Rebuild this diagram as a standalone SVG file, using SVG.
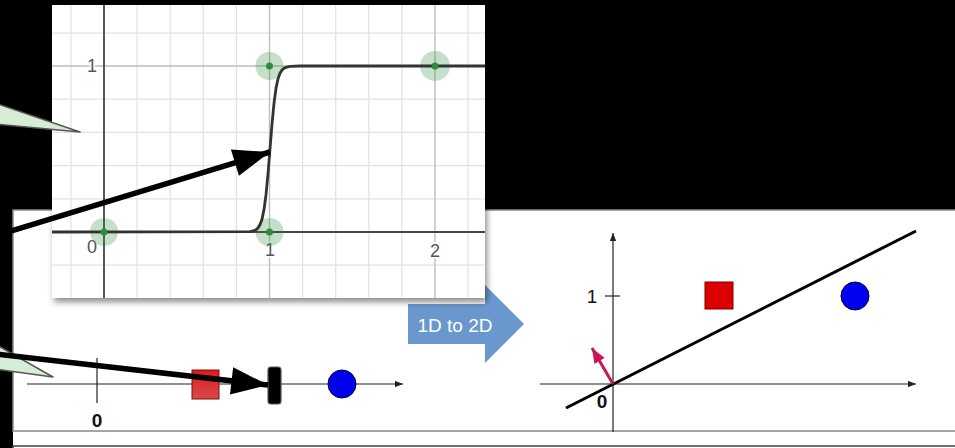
<svg xmlns="http://www.w3.org/2000/svg" width="955" height="448" viewBox="0 0 955 448">
<style>
.grid{stroke:#e2e2e2;stroke-width:1.2;fill:none}
.major{stroke:#bdbdbd;stroke-width:1.4;fill:none}
.axis{stroke:#444;stroke-width:1.8;fill:none}
.tick{font-family:"Liberation Sans",Arial,sans-serif;font-size:18px;fill:#555;text-anchor:middle;stroke:#fff;stroke-width:3px;paint-order:stroke}
.halo{fill:#2e8b3e;fill-opacity:0.28}
.dot{fill:#2e8b3e}
.thin{stroke:#222;stroke-width:1.2;fill:none}
.lbl{font-family:"Liberation Sans",Arial,sans-serif;font-size:19px;fill:#111;text-anchor:middle}
.callout{fill:#d7ecd4;stroke:#555;stroke-width:1.5;stroke-linejoin:round}
.big{stroke:#000;stroke-width:5.5;fill:none}
</style>
<defs>
<marker id="bigHead" viewBox="0 0 8 6" refX="8" refY="3" markerWidth="7.3" markerHeight="5" markerUnits="strokeWidth" orient="auto">
<path d="M0,0 L8,3 L0,6 Z" fill="#000"/>
</marker>
<marker id="smallHead" viewBox="0 0 10 8" refX="10" refY="4" markerWidth="7" markerHeight="5.6" markerUnits="strokeWidth" orient="auto">
<path d="M0,0 L10,4 L0,8 Z" fill="#222"/>
</marker>
<marker id="magHead" viewBox="0 0 10 8" refX="10" refY="4" markerWidth="5" markerHeight="4.4" markerUnits="strokeWidth" orient="auto">
<path d="M0,0 L10,4 L0,8 Z" fill="#c8175d"/>
</marker>
<filter id="shadow" x="-5%" y="-5%" width="112%" height="115%">
<feDropShadow dx="2" dy="4" stdDeviation="3" flood-color="#000" flood-opacity="0.45"/>
</filter>
<linearGradient id="redGrad" x1="0" y1="0" x2="0" y2="1">
<stop offset="0" stop-color="#e21a1a"/>
<stop offset="1" stop-color="#d84a4a"/>
</linearGradient>
</defs>
<rect x="0" y="0" width="955" height="448" fill="#000"/>
<g id="panel">
<rect x="13" y="431" width="950" height="20" fill="#fff"/>
<rect x="13" y="446" width="950" height="20" fill="#fff" stroke="#444" stroke-width="1.5"/>
<rect x="13" y="210" width="950" height="221" fill="#fff" stroke="#888" stroke-width="1.5"/>
</g>
<g id="arrow-1d-to-2d">
<path d="M408,304 L485,304 L485,285 L524,324 L485,363 L485,344 L408,344 Z" fill="#6b97cf"/>
<text x="455" y="332" font-family="'Liberation Sans',Arial,sans-serif" font-size="19" fill="#fff" text-anchor="middle">1D to 2D</text>
</g>
<g id="plot-1d">
<line x1="27" y1="384" x2="403" y2="384" class="thin" marker-end="url(#smallHead)"/>
<line x1="97" y1="358" x2="97" y2="403" class="thin"/>
<text x="97" y="427" class="lbl" font-weight="bold">0</text>
<rect x="192" y="370" width="27" height="29" fill="url(#redGrad)" stroke="#7a1010" stroke-width="1"/>
<rect x="268" y="367" width="13" height="37" rx="3" fill="#000" stroke="#555" stroke-width="1.2"/>
<circle cx="342" cy="384" r="14" fill="#0000ee" stroke="#000033" stroke-width="1"/>
</g>
<g id="plot-2d">
<line x1="613" y1="432" x2="613" y2="233" class="thin" marker-end="url(#smallHead)"/>
<line x1="540" y1="384" x2="916" y2="384" class="thin" marker-end="url(#smallHead)"/>
<line x1="605" y1="296" x2="620" y2="296" class="thin"/>
<text x="592" y="303" class="lbl">1</text>
<text x="602" y="408" class="lbl" font-weight="bold">0</text>
<line x1="566" y1="408" x2="916" y2="231" stroke="#000" stroke-width="3"/>
<rect x="705" y="282" width="28" height="27" fill="#dd0000" stroke="#7a0000" stroke-width="1"/>
<circle cx="855" cy="296" r="14" fill="#0000ee" stroke="#000033" stroke-width="1"/>
<line x1="613" y1="384" x2="592" y2="348" stroke="#c8175d" stroke-width="3" marker-end="url(#magHead)"/>
</g>
<g id="sigmoid-plot">
<rect x="52" y="5" width="433" height="293" fill="#fff" filter="url(#shadow)"/>
<g class="grid">
<line x1="70.9" y1="5" x2="70.9" y2="298"/>
<line x1="137.1" y1="5" x2="137.1" y2="298"/>
<line x1="170.2" y1="5" x2="170.2" y2="298"/>
<line x1="203.3" y1="5" x2="203.3" y2="298"/>
<line x1="236.4" y1="5" x2="236.4" y2="298"/>
<line x1="302.6" y1="5" x2="302.6" y2="298"/>
<line x1="335.7" y1="5" x2="335.7" y2="298"/>
<line x1="368.8" y1="5" x2="368.8" y2="298"/>
<line x1="401.9" y1="5" x2="401.9" y2="298"/>
<line x1="468.1" y1="5" x2="468.1" y2="298"/>
<line x1="52" y1="33.2" x2="485" y2="33.2"/>
<line x1="52" y1="99.2" x2="485" y2="99.2"/>
<line x1="52" y1="132.4" x2="485" y2="132.4"/>
<line x1="52" y1="165.6" x2="485" y2="165.6"/>
<line x1="52" y1="198.8" x2="485" y2="198.8"/>
<line x1="52" y1="265.2" x2="485" y2="265.2"/>
</g>
<g class="major">
<line x1="269.5" y1="5" x2="269.5" y2="298"/>
<line x1="435" y1="5" x2="435" y2="298"/>
<line x1="52" y1="66" x2="485" y2="66"/>
</g>
<g class="axis">
<line x1="104" y1="5" x2="104" y2="298"/>
<line x1="52" y1="232" x2="485" y2="232"/>
</g>
<text x="92" y="72" class="tick" font-size="17">1</text>
<text x="92" y="253" class="tick">0</text>
<text x="270" y="256" class="tick">1</text>
<text x="435" y="257" class="tick">2</text>
<circle cx="104" cy="232" r="14" class="halo"/>
<circle cx="269.5" cy="232" r="14" class="halo"/>
<circle cx="269.5" cy="66" r="14" class="halo"/>
<circle cx="435" cy="66" r="15" class="halo"/>
<polyline fill="none" stroke="#333" stroke-width="2.8" stroke-linejoin="round" points="52,232 250,231.7 255,230.4 258,228.1 260,224.8 262,219.2 264,209.6 266,194.7 268,173.9 270,149 272,124.1 274,103.3 276,88.4 278,78.8 280,73.2 282,69.9 285,67.6 290,66.3 300,66 485,66"/>
<circle cx="104" cy="232" r="3.5" class="dot"/>
<circle cx="269.5" cy="232" r="3.5" class="dot"/>
<circle cx="269.5" cy="66" r="3.5" class="dot"/>
<circle cx="435" cy="66" r="3.5" class="dot"/>
</g>
<g id="callout-top">
<path d="M-5,103 L80,132 L-5,124 Z" class="callout"/>
</g>
<g id="callout-bottom">
<path d="M-5,344 L53,377 L-5,369 Z" class="callout"/>
</g>
<g id="connectors">
<line x1="-5" y1="236" x2="270" y2="152" class="big" marker-end="url(#bigHead)"/>
<line x1="-5" y1="354" x2="268" y2="385" class="big" marker-end="url(#bigHead)"/>
</g>
</svg>
